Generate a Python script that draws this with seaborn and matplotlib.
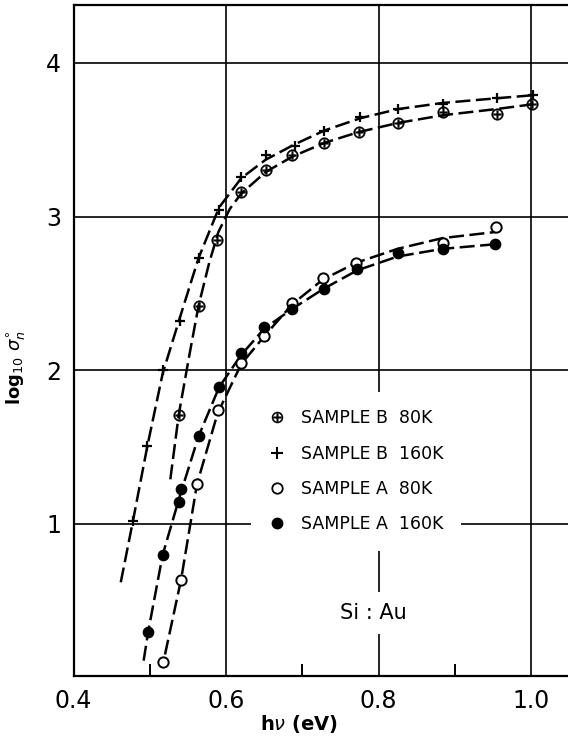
import numpy as np
import pandas as pd
import matplotlib
matplotlib.use("Agg")
import matplotlib.pyplot as plt
import seaborn as sns
from matplotlib.lines import Line2D

# ---- data ----
b80_x = [0.538, 0.564, 0.588, 0.620, 0.652, 0.687, 0.729, 0.774, 0.826, 0.885, 0.955, 1.001]
b80_y = [1.71, 2.42, 2.85, 3.16, 3.30, 3.40, 3.48, 3.55, 3.61, 3.68, 3.67, 3.73]

b160_x = [0.478, 0.497, 0.517, 0.540, 0.564, 0.591, 0.620, 0.652, 0.690, 0.729, 0.776, 0.826, 0.885, 0.955, 1.003]
b160_y = [1.02, 1.51, 2.00, 2.32, 2.73, 3.04, 3.26, 3.40, 3.46, 3.56, 3.65, 3.70, 3.73, 3.77, 3.79]

a80_x = [0.518, 0.541, 0.562, 0.589, 0.620, 0.650, 0.687, 0.727, 0.771, 0.884, 0.954]
a80_y = [0.10, 0.635, 1.26, 1.74, 2.05, 2.22, 2.44, 2.60, 2.70, 2.83, 2.93]

a160_x = [0.498, 0.517, 0.539, 0.541, 0.564, 0.591, 0.620, 0.650, 0.687, 0.728, 0.772, 0.825, 0.884, 0.953]
a160_y = [0.295, 0.80, 1.14, 1.23, 1.57, 1.89, 2.11, 2.28, 2.40, 2.53, 2.66, 2.76, 2.79, 2.82]

# hand-drawn fit curves
b160_cx = [0.462, 0.478, 0.497, 0.517, 0.540, 0.564, 0.591, 0.620, 0.652, 0.690, 0.729, 0.776, 0.826, 0.885, 0.955, 1.003]
b160_cy = [0.62, 1.02, 1.51, 1.98, 2.35, 2.73, 3.06, 3.25, 3.37, 3.47, 3.56, 3.64, 3.70, 3.74, 3.77, 3.79]
b80_cx = [0.527, 0.538, 0.552, 0.564, 0.578, 0.590, 0.605, 0.620, 0.652, 0.687, 0.729, 0.774, 0.826, 0.885, 0.955, 1.001]
b80_cy = [1.29, 1.71, 2.10, 2.42, 2.70, 2.90, 3.05, 3.15, 3.29, 3.39, 3.48, 3.55, 3.61, 3.66, 3.70, 3.73]
a160_cx = [0.492, 0.498, 0.517, 0.540, 0.564, 0.591, 0.620, 0.650, 0.687, 0.728, 0.772, 0.825, 0.884, 0.953]
a160_cy = [0.11, 0.30, 0.80, 1.19, 1.57, 1.89, 2.10, 2.27, 2.40, 2.53, 2.65, 2.74, 2.79, 2.82]
a80_cx = [0.520, 0.541, 0.562, 0.589, 0.620, 0.650, 0.687, 0.727, 0.771, 0.825, 0.884, 0.954]
a80_cy = [0.15, 0.635, 1.26, 1.72, 2.04, 2.22, 2.43, 2.59, 2.70, 2.79, 2.86, 2.90]

labels = ["SAMPLE B  80K", "SAMPLE B  160K", "SAMPLE A  80K", "SAMPLE A  160K"]
x_ticks = [0.4, 0.6, 0.8, 1.0]
x_ticklabels = ["0.4", "0.6", "0.8", "1.0"]
x_minor = [0.5, 0.7, 0.9]
y_ticks = [1, 2, 3, 4]
y_ticklabels = ["1", "2", "3", "4"]

sns.set_style("white")
plt.rcParams["font.family"] = ["DejaVu Sans"]
plt.rcParams["text.color"] = "black"
plt.rcParams["xtick.color"] = "black"
plt.rcParams["ytick.color"] = "black"
plt.rcParams["axes.labelcolor"] = "black"

fig = plt.figure(figsize=(5.68, 7.36), dpi=100)
ax = fig.add_axes([73.5 / 568, 60 / 736, 494.5 / 568, 671 / 736])

# curves
for cx, cy in [(b160_cx, b160_cy), (b80_cx, b80_cy), (a160_cx, a160_cy), (a80_cx, a80_cy)]:
    sns.lineplot(x=cx, y=cy, ax=ax, sort=False, color="black", lw=1.8,
                 dashes=False, zorder=3).lines[-1].set_dashes((6, 2.2))

# points
ax.scatter(b80_x, b80_y, marker="$\\oplus$", s=70, color="black", lw=0.3, zorder=5)
sns.scatterplot(x=b160_x, y=b160_y, ax=ax, marker="+", s=60, color="black", linewidth=1.6, zorder=5)
sns.scatterplot(x=a80_x, y=a80_y, ax=ax, marker="o", s=55, facecolor="white", edgecolor="black", linewidth=1.4, zorder=6)
sns.scatterplot(x=a160_x, y=a160_y, ax=ax, marker="o", s=55, color="black", edgecolor="black", linewidth=1.0, zorder=6)

handles = [
    Line2D([], [], marker="$\\oplus$", ls="none", color="black", markersize=8, markeredgewidth=0.3),
    Line2D([], [], marker="+", ls="none", color="black", markersize=8, markeredgewidth=1.5),
    Line2D([], [], marker="o", ls="none", markerfacecolor="white", markeredgecolor="black", markersize=7.5, markeredgewidth=1.3),
    Line2D([], [], marker="o", ls="none", color="black", markersize=7.5),
]
leg = ax.legend(handles, labels, loc="upper left", bbox_to_anchor=(0.359, 0.4233),
                borderaxespad=0, borderpad=1.0, handlelength=1.0, handletextpad=0.9,
                labelspacing=1.0, frameon=True, fancybox=False, fontsize=12.5)
leg.get_frame().set_facecolor("white")
leg.get_frame().set_edgecolor("none")
leg.get_frame().set_alpha(1)
leg.set_zorder(7)
for t in leg.get_texts():
    t.set_color("black")

ax.text(0.606, 0.094, "Si : Au", transform=ax.transAxes, ha="center", va="center",
        fontsize=15, zorder=7, color="black",
        bbox=dict(facecolor="white", edgecolor="none", pad=8))

ax.set_xlim(0.4, 1.0485)
ax.set_ylim(0.01, 4.377)
ax.set_xticks(x_ticks)
ax.set_xticklabels(x_ticklabels, fontsize=17)
ax.set_xticks(x_minor, minor=True)
ax.set_yticks(y_ticks)
ax.set_yticklabels(y_ticklabels, fontsize=17)
ax.tick_params(axis="x", which="major", direction="in", length=0, pad=9)
ax.tick_params(axis="x", which="minor", direction="in", length=9, width=1.4, color="black", bottom=True)
ax.tick_params(axis="y", length=0, pad=9)

ax.grid(True, which="major", color="black", lw=1.2, zorder=1)
ax.set_axisbelow(True)
for side in ["left", "bottom", "top"]:
    ax.spines[side].set_color("black")
    ax.spines[side].set_linewidth(1.6)
ax.spines["right"].set_visible(False)

ax.set_xlabel("h$\\nu$ (eV)", fontsize=14, fontweight="bold")
ax.xaxis.set_label_coords((299 - 73.5) / 494.5, -0.055)
ax.set_ylabel("log$_{10}$ $\\sigma^{\\circ}_{n}$", fontsize=13, fontweight="bold")
ax.yaxis.set_label_coords(-0.095, 0.46)

fig.savefig("out.png", dpi=100)
